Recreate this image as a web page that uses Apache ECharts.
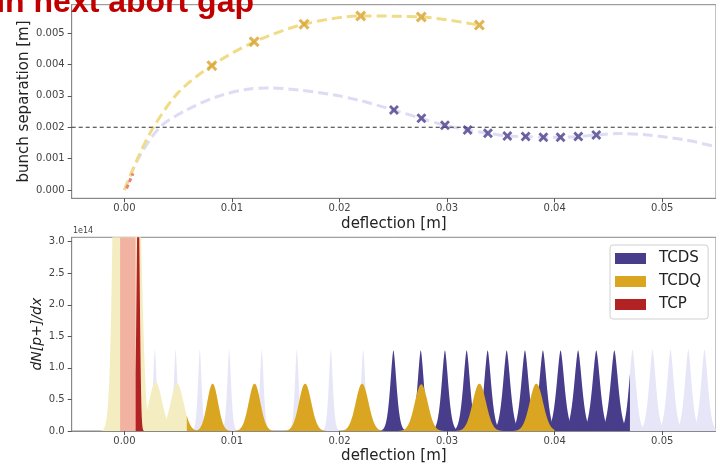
<!DOCTYPE html>
<html><head><meta charset="utf-8">
<script src="https://cdn.jsdelivr.net/npm/echarts@6/dist/echarts.min.js"></script>
<style>html,body{margin:0;padding:0;background:#fff}#c{width:716px;height:465px}</style>
</head><body><div id="c"></div>
<script>
// ---------- data ----------
const xTicks = [0, 0.01, 0.02, 0.03, 0.04, 0.05];
const sepTicks = [0, 0.001, 0.002, 0.003, 0.004, 0.005];
const densTicks = [0, 0.5, 1.0, 1.5, 2.0, 2.5, 3.0];
const gapThreshold = 0.002;

// top panel: bunch separation curves
const tcdqCurveX = [0.0000, 0.0013, 0.0027, 0.0050, 0.0081, 0.0121, 0.0167, 0.0220, 0.0276, 0.0330];
const tcdqCurveY = [0.0000, 0.00106, 0.0020, 0.0031, 0.00396, 0.00472, 0.00528, 0.00554, 0.00551, 0.00525];
const tcdsCurveX = [0.0000, 0.0013, 0.0033, 0.0058, 0.0086, 0.0113, 0.0135, 0.0163, 0.0194, 0.0219, 0.0250, 0.0276, 0.0298, 0.0319, 0.0338, 0.0356, 0.0373, 0.0390, 0.0406, 0.0422, 0.0439, 0.0460, 0.0487, 0.0522, 0.0550];
const tcdsCurveY = [0.0000, 0.0010, 0.0020, 0.00255, 0.00297, 0.0032, 0.00325, 0.00318, 0.00303, 0.00285, 0.00255, 0.00228, 0.00206, 0.00191, 0.00181, 0.00172, 0.0017, 0.00168, 0.00168, 0.0017, 0.00175, 0.0018, 0.00175, 0.00159, 0.00138];
const tcpCurveX = [0.0002, 0.0008];
const tcpCurveY = [0.00005, 0.00053];
const tcdqMarkX = [0.00813, 0.01206, 0.0167, 0.02197, 0.0276, 0.0330];
const tcdqMarkY = [0.00396, 0.00472, 0.00528, 0.00554, 0.00551, 0.00525];
const tcdsMarkX = [0.02506, 0.02761, 0.02980, 0.03191, 0.03380, 0.03560, 0.03730, 0.03895, 0.04055, 0.04220, 0.04387];
const tcdsMarkY = [0.002548, 0.002283, 0.002061, 0.001911, 0.001806, 0.00172, 0.0017, 0.00168, 0.00168, 0.0017, 0.00175];

// bottom panel: bunch peaks (centre [m], height [1e14], width [m])
const tcdsCenters = [0.00283, 0.00476, 0.00701, 0.00974, 0.01277, 0.01603, 0.01919, 0.02220, 0.02501, 0.02755, 0.02980, 0.03182, 0.03377, 0.03554, 0.03724, 0.03891, 0.04055, 0.04218, 0.04387, 0.04555, 0.04724, 0.04910, 0.05077, 0.05242, 0.05393];
const tcdsHeights = [1.29, 1.29, 1.29, 1.29, 1.29, 1.29, 1.29, 1.29, 1.28, 1.28, 1.28, 1.28, 1.28, 1.28, 1.28, 1.28, 1.28, 1.28, 1.28, 1.28, 1.29, 1.29, 1.29, 1.29, 1.29];
const tcdsWidths = [0.00016, 0.00016, 0.00016, 0.00017, 0.00017, 0.00017, 0.00018, 0.00019, 0.00027, 0.00028, 0.00029, 0.0003, 0.00031, 0.00032, 0.00033, 0.00033, 0.00034, 0.00034, 0.00034, 0.00034, 0.0003, 0.0003, 0.0003, 0.0003, 0.0003];
const tcdsWindow = [0.0236, 0.0470];

const tcdqCenters = [0.0001, 0.0012, 0.0029, 0.0049, 0.0082, 0.0121, 0.0168, 0.0221, 0.0276, 0.0330, 0.0383];
const tcdqHeights = [40, 4.5, 0.78, 0.75, 0.75, 0.75, 0.75, 0.75, 0.74, 0.75, 0.75];
const tcdqWidths = [0.00054, 0.0004, 0.0006, 0.0006, 0.0005, 0.00054, 0.00057, 0.00059, 0.0006, 0.00062, 0.00062];
const tcdqWindow = [0.0058, 0.0400];

const tcpCenters = [0.00128];
const tcpHeights = [4.0];
const tcpWidths = [0.00014];
const tcpWindow = [0.00104, 0.0030];
const tcpBand = [-0.0004, 0.00104];

// ---------- styling ----------
const C_TCDS = '#483D8B', C_TCDQ = '#DAA520', C_TCP = '#B22222';
const L_TCDS = '#E6E6F8', L_TCDQ = '#F5EDC2', L_TCP = '#F2B2A2';
const X_MIN = -0.0049, X_MAX = 0.0550, SEP_MIN = -0.000264, SEP_MAX = 0.0059, DENS_MAX = 3.07;
const FONT = 'DejaVu Sans';
const XMARK = 'path://M2,0L5,3L8,0L10,2L7,5L10,8L8,10L5,7L2,10L0,8L3,5L0,2Z';

const zip = (a, b) => a.map((v, i) => [v, b[i]]);

// one filled bell-shaped glyph per bunch; 'p' only sets how pointed the glyph looks
function peakSeries(name, centers, heights, widths, win, color, z, p) {
  return {
    name: name, type: 'custom', xAxisIndex: 1, yAxisIndex: 1, clip: true, z: z,
    itemStyle: { color: color },
    encode: { x: 0, y: 1 },
    data: centers.map((c, i) => [c, heights[i], widths[i]]),
    renderItem: function (params, api) {
      const c = api.value(0), h = api.value(1), s = api.value(2);
      let lo = c - 5 * s, hi = c + 5 * s;
      if (win) { lo = Math.max(lo, win[0]); hi = Math.min(hi, win[1]); }
      if (hi <= lo) return null;
      const pts = [api.coord([lo, 0])];
      const n = 100;
      for (let k = 0; k <= n; k++) {
        const x = lo + (hi - lo) * k / n, t = Math.abs(x - c) / s;
        pts.push(api.coord([x, h * Math.exp(-0.5 * Math.pow(t, p))]));
      }
      pts.push(api.coord([hi, 0]));
      return { type: 'polygon', shape: { points: pts }, style: { fill: color } };
    }
  };
}

const axisCommon = {
  axisLine: { show: true, onZero: false, lineStyle: { color: '#888', width: 1 } },
  splitLine: { show: false },
  nameMoveOverlap: false
};

const chart = echarts.init(document.getElementById('c'), null, { renderer: 'canvas' });
chart.setOption({
  animation: false,
  backgroundColor: '#fff',
  grid: [
    { left: 71.7, top: 4.7, width: 645, height: 193.6, show: true, borderColor: '#888', borderWidth: 1, backgroundColor: 'transparent' },
    { left: 71.7, top: 237.3, width: 645, height: 194, show: true, borderColor: '#888', borderWidth: 1, backgroundColor: 'transparent' }
  ],
  xAxis: [0, 1].map(g => Object.assign({}, axisCommon, {
    type: 'value', gridIndex: g, min: X_MIN, max: X_MAX,
    name: 'deflection [m]', nameLocation: 'middle', nameGap: 18,
    nameTextStyle: { fontFamily: FONT, fontSize: 15, color: '#222' },
    axisTick: { show: true, length: 4, lineStyle: { color: '#555' }, customValues: xTicks },
    axisLabel: { fontFamily: FONT, fontSize: 10, color: '#444', margin: 5, customValues: xTicks, formatter: v => v.toFixed(2) }
  })),
  yAxis: [
    Object.assign({}, axisCommon, {
      type: 'value', gridIndex: 0, min: SEP_MIN, max: SEP_MAX,
      name: 'bunch separation [m]', nameLocation: 'middle', nameGap: 40, nameRotate: 90,
      nameTextStyle: { fontFamily: FONT, fontSize: 15, color: '#222' },
      axisTick: { show: true, length: 4, lineStyle: { color: '#555' }, customValues: sepTicks },
      axisLabel: { fontFamily: FONT, fontSize: 10, color: '#444', margin: 7, customValues: sepTicks, formatter: v => v.toFixed(3) }
    }),
    Object.assign({}, axisCommon, {
      type: 'value', gridIndex: 1, min: 0, max: DENS_MAX,
      name: 'dN[p+]/dx', nameLocation: 'middle', nameGap: 27, nameRotate: 90,
      nameTextStyle: { fontFamily: FONT, fontSize: 14, color: '#222', fontStyle: 'italic' },
      axisTick: { show: true, length: 4, lineStyle: { color: '#555' }, customValues: densTicks },
      axisLabel: { fontFamily: FONT, fontSize: 10, color: '#444', margin: 7, customValues: densTicks, formatter: v => v.toFixed(1) }
    })
  ],
  legend: {
    data: ['TCDS', 'TCDQ', 'TCP'], orient: 'vertical', left: 610, top: 245,
    icon: 'rect', itemWidth: 31, itemHeight: 11, itemGap: 8,
    padding: [6, 7, 7, 5], backgroundColor: '#fff', borderColor: '#d0d0d0', borderWidth: 1, borderRadius: 3,
    textStyle: { fontFamily: FONT, fontSize: 15, color: '#222', padding: [0, 0, 0, 8] },
    selectedMode: false, z: 20
  },
  graphic: [
    { type: 'text', z: 100, style: { text: 'in next abort gap', x: 254, y: 3, align: 'right', verticalAlign: 'middle', font: 'bold 32px "Liberation Sans"', fill: '#C00000' } },
    { type: 'text', z: 50, style: { text: '1e14', x: 73, y: 231, align: 'left', verticalAlign: 'middle', font: '8px "DejaVu Sans"', fill: '#444' } }
  ],
  series: [
    // top panel
    { type: 'line', xAxisIndex: 0, yAxisIndex: 0, data: zip(tcdsCurveX, tcdsCurveY), smooth: 0.3, showSymbol: false, z: 2,
      lineStyle: { color: '#DCDCF5', width: 3, type: [10, 5] } },
    { type: 'line', xAxisIndex: 0, yAxisIndex: 0, data: zip(tcdqCurveX, tcdqCurveY), smooth: 0.3, showSymbol: false, z: 3,
      lineStyle: { color: '#F0DC86', width: 3, type: [10, 5] } },
    { type: 'line', xAxisIndex: 0, yAxisIndex: 0, data: zip(tcpCurveX, tcpCurveY), showSymbol: false, z: 4,
      lineStyle: { color: '#E8837A', width: 3, type: [4, 3] } },
    { type: 'line', xAxisIndex: 0, yAxisIndex: 0, data: [[X_MIN, gapThreshold], [X_MAX, gapThreshold]], showSymbol: false, z: 4,
      lineStyle: { color: '#333', width: 1.1, type: [4, 3] } },
    { type: 'scatter', xAxisIndex: 0, yAxisIndex: 0, data: zip(tcdqMarkX, tcdqMarkY), symbol: XMARK, symbolSize: 11, z: 5,
      itemStyle: { color: '#D8A32A' } },
    { type: 'scatter', xAxisIndex: 0, yAxisIndex: 0, data: zip(tcdsMarkX, tcdsMarkY), symbol: XMARK, symbolSize: 10, z: 5,
      itemStyle: { color: C_TCDS } },
    // bottom panel: full distributions (light)
    peakSeries('TCDS all', tcdsCenters, tcdsHeights, tcdsWidths, null, L_TCDS, 2, 1.6),
    peakSeries('TCDQ all', tcdqCenters, tcdqHeights, tcdqWidths, null, L_TCDQ, 3, 2),
    { name: 'TCP all', type: 'custom', xAxisIndex: 1, yAxisIndex: 1, clip: true, z: 4,
      itemStyle: { color: L_TCP }, encode: { x: [0, 1] },
      data: [[tcpBand[0], tcpBand[1]]],
      renderItem: function (params, api) {
        const p0 = api.coord([api.value(0), DENS_MAX]), p1 = api.coord([api.value(1), 0]);
        return { type: 'rect', shape: { x: p0[0], y: p0[1], width: p1[0] - p0[0], height: p1[1] - p0[1] }, style: { fill: L_TCP } };
      } },
    // bottom panel: bunches inside the collimator windows (dark)
    peakSeries('TCDS', tcdsCenters, tcdsHeights, tcdsWidths, tcdsWindow, C_TCDS, 5, 1.6),
    peakSeries('TCDQ', tcdqCenters, tcdqHeights, tcdqWidths, tcdqWindow, C_TCDQ, 6, 2),
    peakSeries('TCP', tcpCenters, tcpHeights, tcpWidths, tcpWindow, C_TCP, 7, 2)
  ]
});
</script>
</body></html>
